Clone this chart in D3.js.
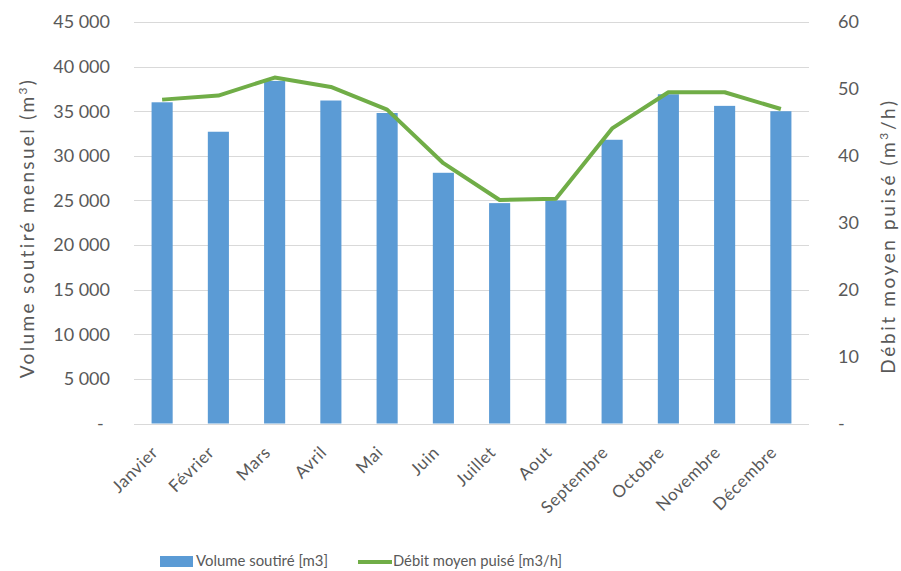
<!DOCTYPE html>
<html>
<head>
<meta charset="utf-8">
<script src="https://cdn.jsdelivr.net/npm/d3@7"></script>
<style>
  body { margin: 0; background: #fff; }
  text { font-family: Lato, "Open Sans", sans-serif; fill: #595959; }
</style>
</head>
<body>
<script>
const months = ['Janvier', 'Février', 'Mars', 'Avril', 'Mai', 'Juin', 'Juillet', 'Aout', 'Septembre', 'Octobre', 'Novembre', 'Décembre'];
const volume = [36000, 32700, 38400, 36200, 34800, 28100, 24700, 25000, 31800, 36900, 35600, 35000];
const debit = [48.4, 49.0, 51.7, 50.3, 46.9, 38.9, 33.4, 33.6, 44.1, 49.5, 49.5, 47.0];
const leftTicks = [0, 5000, 10000, 15000, 20000, 25000, 30000, 35000, 40000, 45000];
const rightTicks = [0, 10, 20, 30, 40, 50, 60];

const width = 901, height = 571;
const margin = { top: 22, right: 92, bottom: 147.5, left: 134 };

const svg = d3.select('body')
  .append('svg')
  .attr('width', width)
  .attr('height', height);

const x = d3.scaleBand()
  .domain(months)
  .range([margin.left, width - margin.right])
  .paddingInner(0.625)
  .paddingOuter(0.3125);

const yL = d3.scaleLinear().domain([0, 45000]).range([height - margin.bottom, margin.top]);
const yR = d3.scaleLinear().domain([0, 60]).range([height - margin.bottom, margin.top]);

const fmt = v => v === 0 ? '-' : d3.format(',')(v).replace(/,/g, ' ');

// stretch a text to a given length by letter spacing
function spreadTo(sel, target) {
  const n = sel.text().length;
  const len = sel.node().getComputedTextLength();
  sel.style('letter-spacing', ((target - len) / n) + 'px');
}

// gridlines
svg.append('g')
  .selectAll('line')
  .data(leftTicks)
  .join('line')
  .attr('x1', margin.left)
  .attr('x2', width - margin.right)
  .attr('y1', d => Math.round(yL(d)) + 0.5)
  .attr('y2', d => Math.round(yL(d)) + 0.5)
  .style('stroke', '#d9d9d9')
  .style('stroke-width', 1);

// left axis labels
svg.append('g')
  .selectAll('text')
  .data(leftTicks)
  .join('text')
  .attr('x', d => d === 0 ? 97 : 110)
  .attr('y', d => yL(d))
  .attr('dy', '0.35em')
  .attr('text-anchor', d => d === 0 ? 'start' : 'end')
  .style('font-size', '18px')
  .text(fmt);

// right axis labels
svg.append('g')
  .selectAll('text')
  .data(rightTicks)
  .join('text')
  .attr('x', 838)
  .attr('y', d => yR(d))
  .attr('dy', '0.35em')
  .style('font-size', '18px')
  .text(d => d === 0 ? '-' : d);

// bars
svg.append('g')
  .selectAll('rect')
  .data(volume)
  .join('rect')
  .attr('x', (d, i) => x(months[i]))
  .attr('width', x.bandwidth())
  .attr('y', d => yL(d))
  .attr('height', d => yL(0) - yL(d))
  .style('fill', '#5b9bd5');

// line
const line = d3.line()
  .x((d, i) => x(months[i]) + x.bandwidth() / 2)
  .y(d => yR(d));

svg.append('path')
  .datum(debit)
  .attr('d', line)
  .style('fill', 'none')
  .style('stroke', '#70ad47')
  .style('stroke-width', 4)
  .style('stroke-linejoin', 'round');

// x labels
svg.append('g')
  .selectAll('text')
  .data(months)
  .join('text')
  .attr('transform', d => `translate(${x(d) + x.bandwidth() / 2 - 3},${yL(0) + 30}) rotate(-45)`)
  .attr('text-anchor', 'end')
  .style('font-size', '17px')
  .style('letter-spacing', '0.6px')
  .text(d => d);

// axis titles
const tl = svg.append('text')
  .attr('transform', `translate(34,228) rotate(-90)`)
  .attr('text-anchor', 'middle')
  .style('font-size', '19px');
tl.append('tspan').text('Volume soutiré mensuel  (m');
tl.append('tspan').attr('dy', -7).style('font-size', '12px').text('3');
tl.append('tspan').attr('dy', 7).text(')');
spreadTo(tl, 303);

const tr = svg.append('text')
  .attr('transform', `translate(895,236) rotate(-90)`)
  .attr('text-anchor', 'middle')
  .style('font-size', '19px');
tr.append('tspan').text('Débit moyen  puisé (m');
tr.append('tspan').attr('dy', -7).style('font-size', '12px').text('3');
tr.append('tspan').attr('dy', 7).text('/h)');
spreadTo(tr, 278);

// legend
const lg = svg.append('g');
lg.append('rect')
  .attr('x', 160).attr('y', 556)
  .attr('width', 33).attr('height', 11)
  .style('fill', '#5b9bd5');
lg.append('text')
  .attr('x', 196).attr('y', 566)
  .attr('textLength', 132)
  .attr('lengthAdjust', 'spacingAndGlyphs')
  .style('font-size', '16px')
  .text('Volume soutiré [m3]');
lg.append('line')
  .attr('x1', 358).attr('x2', 392)
  .attr('y1', 562).attr('y2', 562)
  .style('stroke', '#70ad47')
  .style('stroke-width', 4);
lg.append('text')
  .attr('x', 393).attr('y', 566)
  .attr('textLength', 169)
  .attr('lengthAdjust', 'spacingAndGlyphs')
  .style('font-size', '16px')
  .text('Débit moyen puisé [m3/h]');
</script>
</body>
</html>
